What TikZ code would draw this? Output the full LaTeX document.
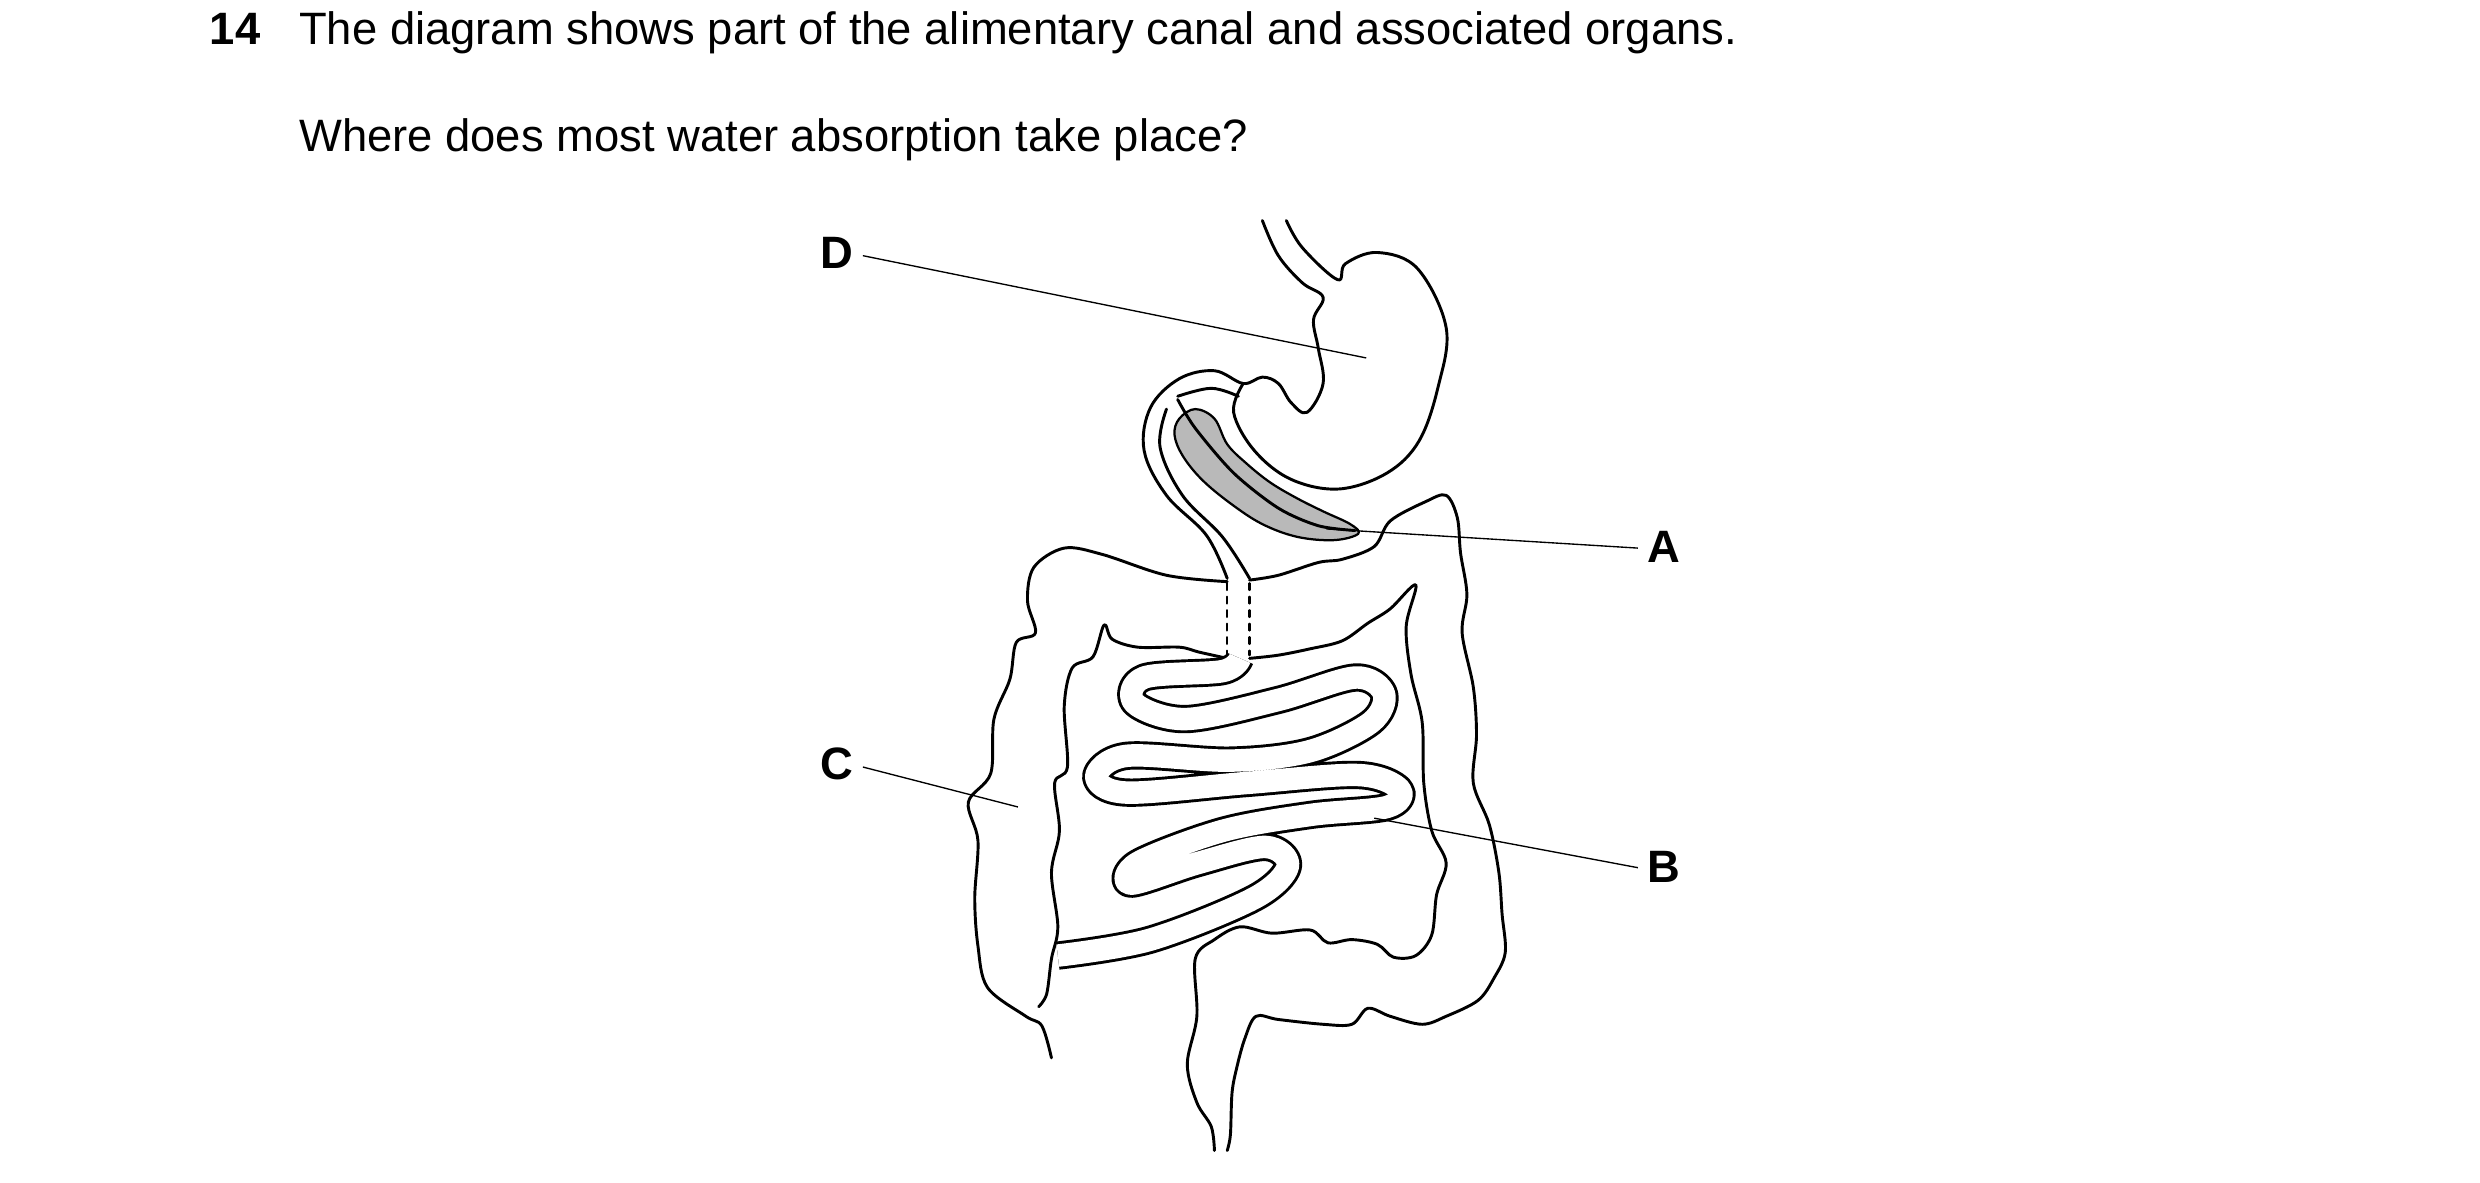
\documentclass[tikz,border=0pt]{standalone}
\usepackage{fontspec}
\setmainfont{Liberation Sans}
\begin{document}
\begin{tikzpicture}[x=0.25mm,y=-0.25mm,
  txt/.style={anchor=base west,inner sep=0pt,font=\fontsize{20.2}{24}\selectfont},
  lab/.style={txt,font=\fontsize{20.2}{24}\selectfont\bfseries},
  org/.style={line width=1.3pt,line join=round,line cap=round},
  lead/.style={line width=0.6pt}]
\useasboundingbox (0,0) rectangle (1552,740);
\node[lab] (n14) at (131,28) {14};
\node[txt] (q1) at (187,28) {The diagram shows part of the alimentary canal and associated organs.};
\node[txt] (q2) at (187,95) {Where does most water absorption take place?};
% pancreas
\fill[gray!55] plot[smooth cycle,tension=0.6] coordinates {(738,262)(748,256)(760,262)(768,278)(780,290)(795,302)(812,312)(828,320)(845,328)(850,334)(835,338)(812,336)(790,328)(770,315)(752,300)(740,285)(735,272)};
\draw[org,line width=1pt] plot[smooth cycle,tension=0.6] coordinates {(738,262)(748,256)(760,262)(768,278)(780,290)(795,302)(812,312)(828,320)(845,328)(850,334)(835,338)(812,336)(790,328)(770,315)(752,300)(740,285)(735,272)};
% oesophagus + stomach
\draw[org] plot[smooth,tension=0.6] coordinates {(790,138)(800,160)(815,177)(828,186)(822,200)(825,218)(828,240)(818,258)(808,252)(800,240)(790,236)(778,240)(760,232)(738,237)(720,255)(716,282)(730,310)(755,335)(768,362)};
\draw[org] plot[smooth,tension=0.6] coordinates {(805,138)(815,155)(837,175)(842,165)(862,158)(887,168)(905,205)(900,242)(888,276)(868,296)(838,306)(808,300)(785,282)(772,258)(778,240)};
% duodenum inner lines
\draw[org] plot[smooth,tension=0.6] coordinates {(737,248)(758,243)(775,248)};
\draw[org] plot[smooth,tension=0.5] coordinates {(737,250)(748,268)(772,296)(800,318)(825,329)(848,332)};
\draw[org] plot[smooth,tension=0.6] coordinates {(730,256)(726,280)(740,310)(765,336)(782,362)};
\draw[org,dashed,line width=1pt] (768,365)--(768,410) (782,365)--(782,410);
% large intestine outer
\draw[org] plot[smooth,tension=0.55] coordinates {(658,662)(652,642)(642,636)(618,618)(612,592)(610,562)(612,526)(606,502)(620,484)(622,450)(632,425)(636,402)(648,396)(643,376)(647,355)(666,343)(690,347)(730,360)(768,364)};
\draw[org] plot[smooth,tension=0.55] coordinates {(782,363)(800,360)(825,352)(840,350)(860,342)(870,326)(892,314)(905,310)(912,324)(914,346)(918,372)(915,396)(922,430)(924,460)(922,490)(932,516)(938,546)(940,572)(942,596)(935,612)(925,626)(905,636)(890,641)(870,636)(856,631)(846,641)(828,641)(800,638)(786,636)(779,650)(774,668)(771,684)(770,710)(768,720)};
% large intestine inner
\draw[org] plot[smooth,tension=0.55] coordinates {(760,720)(758,705)(749,690)(743,666)(749,636)(748,600)(760,588)(776,580)(796,584)(820,582)(831,590)(846,588)(862,591)(872,599)(886,598)(896,585)(899,560)(905,540)(896,520)(891,490)(890,452)(883,422)(880,392)(886,366)(870,381)(856,390)(840,401)(820,406)(800,410)(782,412)};
\draw[org] plot[smooth,tension=0.55] coordinates {(768,412)(750,408)(738,405)(712,405)(696,400)(691,391)(684,411)(671,418)(666,442)(668,480)(660,490)(663,520)(658,546)(662,580)(658,600)(655,622)(650,630)};
% small intestine
\draw[org,line cap=butt,double=white,double distance=10pt] plot[smooth,tension=0.55] coordinates {(662,598)(720,588)(785,562)(806,542)(792,530)(750,540)(708,553)(712,540)(765,520)(820,510)(868,505)(876,494)(850,485)(780,490)(705,496)(686,486)(705,473)(770,476)(820,470)(858,452)(866,434)(848,424)(800,438)(742,450)(710,440)(716,424)(765,420)(776,412)};
% labels
\node[lab] (D) at (513,168) {D};
\node[lab] (A) at (1031,352) {A};
\node[lab] (C) at (513,488) {C};
\node[lab] (B) at (1031,552) {B};
\coordinate (dD) at (855,224);
\coordinate (dA) at (830,331);
\coordinate (dC) at (637,505);
\coordinate (dB) at (860,512);
\draw[lead] (540,160)--(dD);
\draw[lead] (1025,343)--(dA);
\draw[lead] (540,480)--(dC);
\draw[lead] (1025,543)--(dB);
\end{tikzpicture}
\end{document}
